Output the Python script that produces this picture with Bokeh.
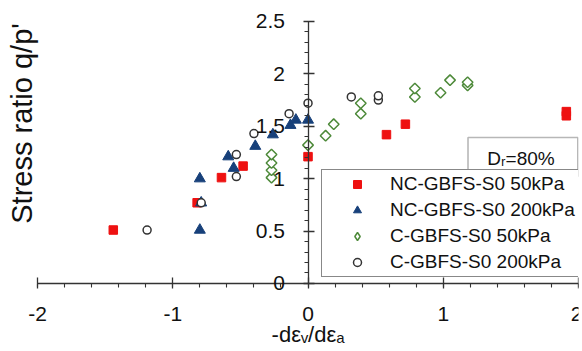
import numpy as np
from bokeh.plotting import figure
from bokeh.models import (Range1d, SingleIntervalTicker, Legend, LegendItem,
                          Label, BoxAnnotation, CustomJSTickFormatter)
from bokeh.embed import file_html
from bokeh.resources import INLINE

# ---- data ----
nc50_x = [-1.44, -0.82, -0.64, -0.48, 0.0, 0.58, 0.72, 1.91, 1.91]
nc50_y = [0.51, 0.77, 1.01, 1.12, 1.21, 1.42, 1.52, 1.60, 1.64]

nc200_x = [-0.80, -0.79, -0.80, -0.59, -0.55, -0.39, -0.26, -0.13, -0.09, 0.0]
nc200_y = [0.51, 0.77, 1.00, 1.21, 1.10, 1.31, 1.42, 1.51, 1.56, 1.56]

c50_x = [-0.27, -0.27, -0.27, -0.27, 0.0, 0.13, 0.19, 0.39, 0.39, 0.79, 0.79, 0.98, 1.05, 1.18, 1.18]
c50_y = [1.01, 1.08, 1.15, 1.23, 1.32, 1.41, 1.52, 1.62, 1.72, 1.78, 1.86, 1.82, 1.94, 1.89, 1.92]

c200_x = [-1.19, -0.79, -0.53, -0.53, -0.40, -0.14, 0.0, 0.32, 0.52, 0.52]
c200_y = [0.51, 0.77, 1.02, 1.23, 1.43, 1.62, 1.72, 1.78, 1.75, 1.79]

series_names = ["NC-GBFS-S0 50kPa", "NC-GBFS-S0 200kPa", "C-GBFS-S0 50kPa", "C-GBFS-S0 200kPa"]
x_label = "-d\u03b5\u1d65/d\u03b5\u2090"
y_label = "Stress ratio q/p'"
dr_text = "D\u1d63=80%"

FONT = "Liberation Sans"
INK = "#111111"

# frame covers the whole canvas; both axes sit on the zero lines
p = figure(width=582, height=351, output_backend="svg", toolbar_location=None,
           x_range=Range1d(-2.274, 2.0), y_range=Range1d(-0.649, 2.70),
           min_border_left=0, min_border_right=4, min_border_top=0, min_border_bottom=0)
p.outline_line_color = None
p.grid.visible = False
p.background_fill_color = "white"

fmt = CustomJSTickFormatter(code="return String(Math.round(tick * 10) / 10);")

xa = p.xaxis[0]
xa.ticker = SingleIntervalTicker(interval=1, num_minor_ticks=5)
xa.bounds = (-2, 2)
xa.fixed_location = 0
ya = p.yaxis[0]
ya.ticker = SingleIntervalTicker(interval=0.5, num_minor_ticks=5)
ya.bounds = (0, 2.5)
ya.fixed_location = 0
for ax in (xa, ya):
    ax.formatter = fmt
    ax.axis_line_color = "#333333"
    ax.axis_line_width = 1.3
    ax.major_tick_line_color = "#333333"
    ax.minor_tick_line_color = "#333333"
    ax.major_tick_line_width = 1.3
    ax.minor_tick_line_width = 1.1
    ax.major_tick_in = 6
    ax.major_tick_out = 5
    ax.minor_tick_in = 0
    ax.minor_tick_out = 4
    ax.major_label_text_font = FONT
    ax.major_label_text_font_size = "21px"
    ax.major_label_text_color = INK
xa.major_label_standoff = 19
ya.major_label_standoff = 18
xa.axis_label = x_label
xa.axis_label_text_font = FONT
xa.axis_label_text_font_size = "22px"
xa.axis_label_text_font_style = "normal"
xa.axis_label_text_color = INK
xa.axis_label_standoff = -3

p.add_layout(Label(x=-2.115, y=1.527, text=y_label, angle=np.pi / 2,
                   text_align="center", text_baseline="middle",
                   text_font=FONT, text_font_size="29px", text_color=INK))

# Dr box
p.add_layout(BoxAnnotation(left=1.183, right=1.995, bottom=1.021, top=1.393,
                           fill_color="white", fill_alpha=1.0,
                           line_color=INK, line_width=1.6))
p.add_layout(Label(x=1.575, y=1.193, text=dr_text, text_align="center",
                   text_baseline="middle", text_font=FONT, text_font_size="19px",
                   text_color=INK))

RED, BLUE, GREEN, GREY = "#EE1111", "#17407A", "#4E8A3A", "#333333"
r1 = p.scatter(nc50_x, nc50_y, marker="square", size=8.5, fill_color=RED, line_color=RED)
r2 = p.scatter(nc200_x, nc200_y, marker="triangle", size=11, fill_color=BLUE, line_color=BLUE)
r3 = p.scatter(c50_x, c50_y, marker="square", angle=np.pi / 4, size=7.5,
               fill_color="white", line_color=GREEN, line_width=1.5)
r4 = p.scatter(c200_x, c200_y, marker="circle", size=8, fill_color="white",
               line_color=GREY, line_width=1.5)
# legend-only diamond key (legend glyphs are never rotated); NaN point is not drawn
r3_key = p.scatter(x=[float("nan")], y=[float("nan")], marker="diamond", size=12,
                   fill_color="white", line_color=GREEN, line_width=1.5)

legend = Legend(items=[LegendItem(label=series_names[0], renderers=[r1]),
                       LegendItem(label=series_names[1], renderers=[r2]),
                       LegendItem(label=series_names[2], renderers=[r3_key]),
                       LegendItem(label=series_names[3], renderers=[r4])],
                location=(321, 74), padding=3, spacing=4, margin=0,
                glyph_width=64, glyph_height=20, label_height=20, label_standoff=1,
                label_width=186,
                label_text_font=FONT, label_text_font_size="19px",
                label_text_color=INK,
                border_line_color=INK, border_line_width=1.6,
                background_fill_color="white", background_fill_alpha=1.0)
p.add_layout(legend, "center")

open("out.html", "w").write(file_html(p, INLINE))
